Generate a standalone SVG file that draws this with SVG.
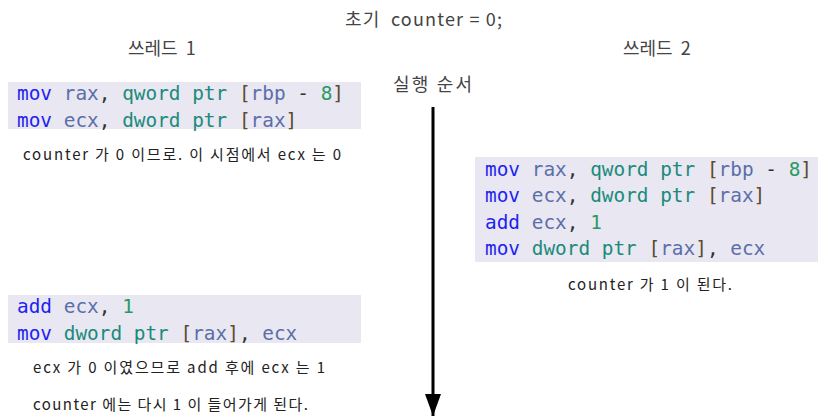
<svg xmlns="http://www.w3.org/2000/svg" width="818" height="417" viewBox="0 0 818 417">
<defs>
<style>
.code{font-family:"DejaVu Sans Mono","Liberation Mono",monospace;font-size:19.4px;white-space:pre}
.box{fill:#e8e7f2}
.k{fill:#1f1ff0}
.r{fill:#5b6ea8}
.t{fill:#1b8a7b}
.b{fill:#5e4a2c}
.n{fill:#2a9a62}
.p{fill:#333333}
.lbl{font-family:"Noto Sans CJK KR","Noto Sans",sans-serif;fill:#444444;white-space:pre}
.note{font-family:"Noto Sans CJK KR","Noto Sans",sans-serif;font-size:15px;fill:#222222;white-space:pre}
</style>
<marker id="ah" viewBox="0 0 22 16" refX="22" refY="8" markerWidth="22" markerHeight="16" markerUnits="userSpaceOnUse" orient="auto">
<path d="M0,0 L22,8 L0,16 Z" fill="#000"/>
</marker>
</defs>
<rect width="818" height="417" fill="#ffffff"/>

<g id="title">
<text class="lbl" x="345" y="26" font-size="18" textLength="157" lengthAdjust="spacing">초기  counter = 0;</text>
</g>
<g id="thread1-label">
<text class="lbl" x="128" y="55" font-size="18">쓰레드  1</text>
</g>
<g id="thread2-label">
<text class="lbl" x="623" y="55" font-size="18">쓰레드  2</text>
</g>
<g id="order-label">
<text class="lbl" x="393" y="91" font-size="18" textLength="79" lengthAdjust="spacing">실행 순서</text>
</g>

<g id="connectors">
<line x1="433" y1="107" x2="433" y2="416" stroke="#000" stroke-width="3" marker-end="url(#ah)"/>
</g>

<g id="t1-block1">
<rect class="box" x="8" y="82" width="353" height="47"/>
<text class="code" x="17" y="100"><tspan class="k">mov</tspan> <tspan class="r">rax</tspan><tspan class="p">,</tspan> <tspan class="t">qword ptr</tspan> <tspan class="b">[</tspan><tspan class="r">rbp</tspan> <tspan class="p">-</tspan> <tspan class="n">8</tspan><tspan class="b">]</tspan></text>
<text class="code" x="17" y="127"><tspan class="k">mov</tspan> <tspan class="r">ecx</tspan><tspan class="p">,</tspan> <tspan class="t">dword ptr</tspan> <tspan class="b">[</tspan><tspan class="r">rax</tspan><tspan class="b">]</tspan></text>
<text class="note" x="23" y="160" textLength="318" lengthAdjust="spacing">counter 가 0 이므로. 이 시점에서 ecx 는 0</text>
</g>

<g id="t2-block">
<rect class="box" x="475" y="157" width="343" height="105"/>
<text class="code" x="485" y="175.5"><tspan class="k">mov</tspan> <tspan class="r">rax</tspan><tspan class="p">,</tspan> <tspan class="t">qword ptr</tspan> <tspan class="b">[</tspan><tspan class="r">rbp</tspan> <tspan class="p">-</tspan> <tspan class="n">8</tspan><tspan class="b">]</tspan></text>
<text class="code" x="485" y="202"><tspan class="k">mov</tspan> <tspan class="r">ecx</tspan><tspan class="p">,</tspan> <tspan class="t">dword ptr</tspan> <tspan class="b">[</tspan><tspan class="r">rax</tspan><tspan class="b">]</tspan></text>
<text class="code" x="485" y="228.5"><tspan class="k">add</tspan> <tspan class="r">ecx</tspan><tspan class="p">,</tspan> <tspan class="n">1</tspan></text>
<text class="code" x="485" y="255"><tspan class="k">mov</tspan> <tspan class="t">dword ptr</tspan> <tspan class="b">[</tspan><tspan class="r">rax</tspan><tspan class="b">]</tspan><tspan class="p">,</tspan> <tspan class="r">ecx</tspan></text>
<text class="note" x="568" y="290" textLength="164" lengthAdjust="spacing">counter 가 1 이 된다.</text>
</g>

<g id="t1-block2">
<rect class="box" x="8" y="295" width="353" height="48"/>
<text class="code" x="17" y="313"><tspan class="k">add</tspan> <tspan class="r">ecx</tspan><tspan class="p">,</tspan> <tspan class="n">1</tspan></text>
<text class="code" x="17" y="339.5"><tspan class="k">mov</tspan> <tspan class="t">dword ptr</tspan> <tspan class="b">[</tspan><tspan class="r">rax</tspan><tspan class="b">]</tspan><tspan class="p">,</tspan> <tspan class="r">ecx</tspan></text>
<text class="note" x="33" y="373" textLength="292" lengthAdjust="spacing">ecx 가 0 이였으므로 add 후에 ecx 는 1</text>
<text class="note" x="33" y="410" textLength="275" lengthAdjust="spacing">counter 에는 다시 1 이 들어가게 된다.</text>
</g>
</svg>
